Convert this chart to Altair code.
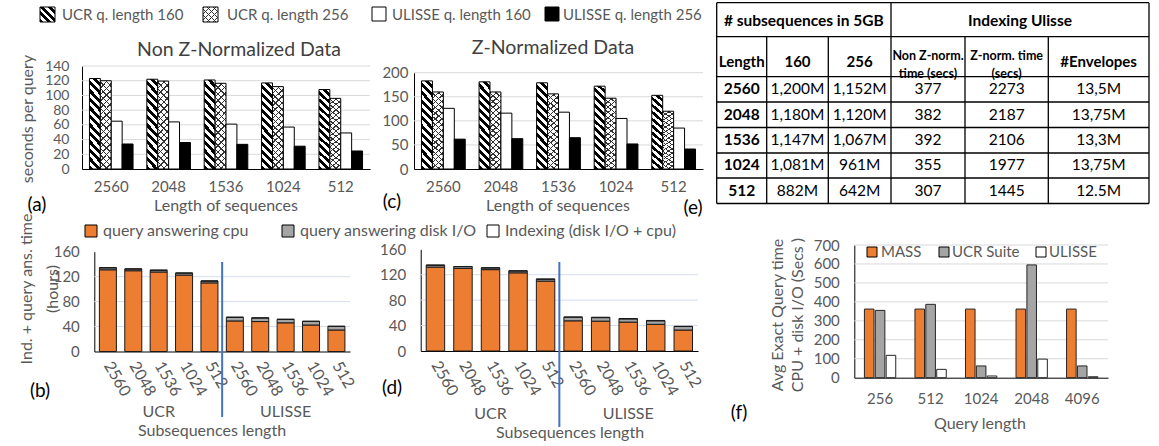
import altair as alt
import pandas as pd

W, H = 1159, 446
FONT = "Lato"
TXT = "#595959"
DARK = "#404040"
ORANGE = "#ED7D31"
GREY = "#A5A5A5"
BLUE = "#4472C4"

# ---------------- (a) / (c): seconds per query ----------------
lengths = ["2560", "2048", "1536", "1024", "512"]
series_q = ["UCR q. length 160", "UCR q. length 256",
            "ULISSE q. length 160", "ULISSE q. length 256"]
nonz_ucr160 = [123, 122, 121, 117, 108]
nonz_ucr256 = [120, 119.5, 116.5, 112, 96]
nonz_ulisse160 = [65, 64, 61, 57, 49]
nonz_ulisse256 = [34, 36, 33.5, 31, 24.5]
z_ucr160 = [183, 181, 179, 172, 153]
z_ucr256 = [160, 160, 156, 147, 120]
z_ulisse160 = [126, 116, 118, 105, 85]
z_ulisse256 = [62, 63, 65, 52, 41.5]
nonz_ticks = [0, 20, 40, 60, 80, 100, 120, 140]
z_ticks = [0, 50, 100, 150, 200]

# ---------------- (b) / (d): hours ----------------
methods = ["UCR", "ULISSE"]
components = ["query answering cpu", "query answering disk I/O", "Indexing (disk I/O + cpu)"]
b_ucr_cpu = [131, 129.5, 127.5, 122.5, 110]
b_ucr_io = [3.2, 2.8, 2.8, 3.2, 3.0]
b_ucr_idx = [0, 0, 0, 0, 0]
b_ulisse_cpu = [49, 48, 46, 42.5, 34.5]
b_ulisse_io = [5.8, 5.8, 5.5, 5.8, 5.8]
b_ulisse_idx = [0.10, 0.11, 0.11, 0.10, 0.09]
d_ucr_cpu = [132, 130, 128, 123, 110]
d_ucr_io = [3.0, 2.8, 2.8, 3.0, 3.0]
d_ucr_idx = [0, 0, 0, 0, 0]
d_ulisse_cpu = [47.5, 47, 45.5, 42, 33]
d_ulisse_io = [5.5, 5.5, 5.0, 5.5, 5.5]
d_ulisse_idx = [0.63, 0.61, 0.58, 0.55, 0.40]
hours_ticks = [0, 40, 80, 120, 160]

# ---------------- (f): exact query time ----------------
query_lengths = ["256", "512", "1024", "2048", "4096"]
f_methods = ["MASS", "UCR Suite", "ULISSE"]
f_mass = [362, 362, 362, 362, 362]
f_ucr = [355, 387, 62, 595, 62]
f_ulisse = [118, 44, 9, 98, 5]
f_ticks = [0, 100, 200, 300, 400, 500, 600, 700]

# ---------------- (e): table ----------------
tab_length = ["2560", "2048", "1536", "1024", "512"]
tab_160 = ["1,200M", "1,180M", "1,147M", "1,081M", "882M"]
tab_256 = ["1,152M", "1,120M", "1,067M", "961M", "642M"]
tab_nonz = ["377", "382", "392", "355", "307"]
tab_z = ["2273", "2187", "2106", "1977", "1445"]
tab_env = ["13,5M", "13,75M", "13,3M", "13,75M", "12.5M"]

# ---------------- layout (pixels) ----------------
PA = {"x": (82, 370), "y": (169, 66)}
PC = {"x": (414, 703), "y": (169, 72.7)}
PB = {"x": (94.3, 350), "y": (351.5, 251.7)}
PD = {"x": (420.7, 698), "y": (351, 249.3)}
PF = {"x": (854.3, 1108), "y": (377.7, 245)}
TAB_X = [716.7, 766.7, 828.3, 891, 965, 1048.3, 1149]
TAB_Y = [2.7, 36.7, 76.7, 102, 127.5, 153, 178, 203.5]


def one():
    return pd.DataFrame({"k": [0]})


def texts(items, size, color=TXT, weight="normal", align="center", angle=0, lh=None):
    df = pd.DataFrame({"t": [i[0] for i in items], "px": [i[1] for i in items],
                       "py": [i[2] for i in items]})
    kw = dict(font=FONT, fontSize=size, color=color, fontWeight=weight, align=align,
              baseline="middle", angle=angle, lineBreak="|")
    if lh:
        kw["lineHeight"] = lh
    return alt.Chart(df).mark_text(**kw).encode(
        x=alt.X("px:Q", scale=None, axis=None), y=alt.Y("py:Q", scale=None, axis=None), text="t:N")


def swatch(x0, x1, y0, y1, fill, stroke="black", sw=1):
    kw = dict(fill=fill)
    if stroke:
        kw.update(stroke=stroke, strokeWidth=sw)
    return alt.Chart(one()).mark_rect(**kw).encode(
        x=alt.value(x0), x2=alt.value(x1), y=alt.value(y0), y2=alt.value(y1))


def stripes(w, h, period, frac, on, off, direction):
    n = max(1, round((w + h) / period))
    t = (w + h) / (w * w + h * h)
    stops = []
    for i in range(n):
        a, b, e = i / n, (i + frac) / n, (i + 1) / n
        stops += [alt.GradientStop(color=on, offset=round(a, 5)),
                  alt.GradientStop(color=on, offset=round(b, 5)),
                  alt.GradientStop(color=off, offset=round(b, 5)),
                  alt.GradientStop(color=off, offset=round(e, 5))]
    if direction == "back":
        return alt.LinearGradient(gradient="linear", stops=stops, x1=0, y1=1, x2=t * w, y2=1 - t * h)
    return alt.LinearGradient(gradient="linear", stops=stops, x1=0, y1=0, x2=t * w, y2=t * h)


def y_axis(px, ticks, pad, size=15):
    return alt.Axis(orient="left", offset=-px, values=ticks, title=None, grid=False, ticks=False,
                    domainColor="black", domainWidth=1, labelFont=FONT, labelFontSize=size,
                    labelColor=TXT, labelPadding=pad, labelOverlap=False, labelFlush=False)


def x_axis(py, pad, size=15, angle=0, **kw):
    return alt.Axis(orient="bottom", offset=py - H, title=None, grid=False, ticks=False,
                    domainColor="black", domainWidth=1, labelFont=FONT, labelFontSize=size,
                    labelColor=TXT, labelPadding=pad, labelOverlap=False, labelAngle=angle, **kw)


HATCH_LINE = "#333333"
CLEAR = "rgba(0,0,0,0)"


def grouped_panel(vals, P, ticks, ypad, ysize):
    df = pd.DataFrame([{"len": l, "series": s, "value": v}
                       for s, vs in zip(series_q, vals) for l, v in zip(lengths, vs)])
    pi, po = 0.24, 0.13
    xs = alt.Scale(domain=lengths, range=list(P["x"]), paddingInner=pi, paddingOuter=po)
    ys = alt.Scale(domain=[ticks[0], ticks[-1]], range=list(P["y"]), nice=False, zero=False)
    xo = alt.Scale(domain=series_q, paddingInner=0, paddingOuter=0)
    xa = x_axis(P["y"][0], 10)
    ya = y_axis(P["x"][0], ticks, ypad, size=ysize)
    step = (P["x"][1] - P["x"][0]) / (len(lengths) - pi + 2 * po)
    bw = step * (1 - pi) / 4
    bh = 85
    grid = alt.Chart(pd.DataFrame({"v": ticks[1:]})).mark_rule(color="#D9D9D9", strokeWidth=1).encode(
        y=alt.Y("v:Q", scale=ys, axis=ya),
        x=alt.value(P["x"][0]), x2=alt.value(P["x"][1]))

    def bars(s, **mk):
        return alt.Chart(df).transform_filter(alt.datum.series == s).mark_bar(**mk).encode(
            x=alt.X("len:N", scale=xs, axis=xa),
            xOffset=alt.XOffset("series:N", scale=xo),
            y=alt.Y("value:Q", scale=ys, axis=ya, stack=None))

    return alt.layer(
        grid,
        bars(series_q[0], fill=stripes(bw, bh, 8, 0.5, "black", "white", "back"),
             stroke="black", strokeWidth=1),
        bars(series_q[1], fill="white"),
        bars(series_q[1], fill=stripes(bw, bh, 6.5, 0.22, HATCH_LINE, CLEAR, "back")),
        bars(series_q[1], fill=stripes(bw, bh, 6.5, 0.22, HATCH_LINE, CLEAR, "fwd"),
             stroke="black", strokeWidth=1),
        bars(series_q[2], fill="white", stroke="black", strokeWidth=1),
        bars(series_q[3], fill="black", stroke="black", strokeWidth=1),
    )


def stacked_panel(ucr, ulisse, P, ypad, div_y, group_y):
    cats = [f"{m}-{l}" for m in methods for l in lengths]
    rows = []
    for m, comps in zip(methods, [ucr, ulisse]):
        for ci, (cname, arr) in enumerate(zip(components, comps)):
            for l, v in zip(lengths, arr):
                rows.append({"cat": f"{m}-{l}", "comp": cname, "ord": ci, "value": v})
    df = pd.DataFrame(rows)
    pi, po = 0.33, 0.2
    xs = alt.Scale(domain=cats, range=list(P["x"]), paddingInner=pi, paddingOuter=po)
    ys = alt.Scale(domain=[hours_ticks[0], hours_ticks[-1]], range=list(P["y"]), nice=False, zero=False)
    xa = x_axis(P["y"][0], 11, size=16, angle=60, labelAlign="left", labelBaseline="middle",
                labelExpr="split(datum.label, '-')[1]")
    ya = y_axis(P["x"][0], hours_ticks, ypad)
    step = (P["x"][1] - P["x"][0]) / (len(cats) - pi + 2 * po)
    grid = alt.Chart(pd.DataFrame({"v": hours_ticks[1:-1]})).mark_rule(color="#D6DEEF", strokeWidth=1).encode(
        y=alt.Y("v:Q", scale=ys, axis=ya),
        x=alt.value(P["x"][0]), x2=alt.value(P["x"][1]))
    bars = alt.Chart(df).mark_bar(stroke="#1a1a1a", strokeWidth=1).encode(
        x=alt.X("cat:N", scale=xs, axis=xa),
        y=alt.Y("value:Q", scale=ys, axis=ya, stack="zero"),
        color=alt.Color("comp:N", scale=alt.Scale(domain=components, range=[ORANGE, GREY, "white"]),
                        legend=None),
        order=alt.Order("ord:Q", sort="ascending"))
    divider = alt.Chart(pd.DataFrame({"c": [f"{methods[1]}-{lengths[0]}"]})).mark_rule(
        color=BLUE, strokeWidth=2, xOffset=-step * pi / 2).encode(
        x=alt.X("c:N", scale=xs, axis=xa, bandPosition=0),
        y=alt.value(div_y[0]), y2=alt.value(div_y[1]))
    groups = alt.Chart(pd.DataFrame({"c": [f"{m}-{lengths[2]}" for m in methods], "g": methods})).mark_text(
        font=FONT, fontSize=16, color=TXT, baseline="middle").encode(
        x=alt.X("c:N", scale=xs, axis=xa), y=alt.value(group_y), text="g:N")
    return alt.layer(grid, bars, divider, groups)


def f_panel(P):
    df = pd.DataFrame([{"q": q, "method": m, "value": v}
                       for m, vs in zip(f_methods, [f_mass, f_ucr, f_ulisse])
                       for q, v in zip(query_lengths, vs)])
    xs = alt.Scale(domain=query_lengths, range=list(P["x"]), paddingInner=0.38, paddingOuter=0.2)
    ys = alt.Scale(domain=[f_ticks[0], f_ticks[-1]], range=list(P["y"]), nice=False, zero=False)
    ya = y_axis(P["x"][0], f_ticks, 15)
    grid = alt.Chart(pd.DataFrame({"v": f_ticks[1:]})).mark_rule(color="#D9D9D9", strokeWidth=1).encode(
        y=alt.Y("v:Q", scale=ys, axis=ya),
        x=alt.value(P["x"][0]), x2=alt.value(P["x"][1]))
    bars = alt.Chart(df).mark_bar(stroke="#262626", strokeWidth=1).encode(
        x=alt.X("q:N", scale=xs, axis=x_axis(P["y"][0], 14)),
        xOffset=alt.XOffset("method:N", scale=alt.Scale(domain=f_methods, paddingInner=0.12)),
        y=alt.Y("value:Q", scale=ys, axis=ya, stack=None),
        color=alt.Color("method:N", scale=alt.Scale(domain=f_methods, range=[ORANGE, GREY, "white"]),
                        legend=None))
    return alt.layer(grid, bars)


def table_panel():
    segs = []
    for y in TAB_Y:
        segs.append((TAB_X[0], TAB_X[-1], y, y))
    for x in [TAB_X[0], TAB_X[3], TAB_X[-1]]:
        segs.append((x, x, TAB_Y[0], TAB_Y[-1]))
    for x in [TAB_X[1], TAB_X[2], TAB_X[4], TAB_X[5]]:
        segs.append((x, x, TAB_Y[1], TAB_Y[-1]))
    sdf = pd.DataFrame(segs, columns=["x0", "x1", "y0", "y1"])
    lines = alt.Chart(sdf).mark_rule(color="black", strokeWidth=1.3).encode(
        x=alt.X("x0:Q", scale=None, axis=None), x2="x1:Q",
        y=alt.Y("y0:Q", scale=None, axis=None), y2="y1:Q")
    cx = [(TAB_X[i] + TAB_X[i + 1]) / 2 for i in range(6)]
    tdf = pd.DataFrame({"len": tab_length, "c160": tab_160, "c256": tab_256,
                        "nonz": tab_nonz, "z": tab_z, "env": tab_env})
    ysc = alt.Scale(domain=tab_length, range=[TAB_Y[2], TAB_Y[-1]], paddingInner=0, paddingOuter=0)
    cols = []
    for i, f in enumerate(["len", "c160", "c256", "nonz", "z", "env"]):
        cols.append(alt.Chart(tdf).mark_text(
            font=FONT, fontSize=15.5, color="black", fontWeight="bold" if i == 0 else "normal",
            baseline="middle").encode(
            x=alt.value(cx[i]), y=alt.Y("len:N", scale=ysc, axis=None), text=f"{f}:N"))
    head1 = texts([("# subsequences in 5GB", (TAB_X[0] + TAB_X[3]) / 2, 21),
                   ("Indexing Ulisse", (TAB_X[3] + TAB_X[-1]) / 2, 21)], 15.5, "black", "bold")
    head2 = texts([("Length", cx[0], 62), ("160", cx[1], 62), ("256", cx[2], 62),
                   ("#Envelopes", cx[5], 62)], 15, "black", "bold")
    head3 = texts([("Non Z-norm.|time (secs)", cx[3], 56), ("Z-norm. time|(secs)", cx[4], 56)],
                  12.5, "black", "bold", lh=18)
    return alt.layer(lines, *cols, head1, head2, head3)


layers = []
layers.append(grouped_panel([nonz_ucr160, nonz_ucr256, nonz_ulisse160, nonz_ulisse256], PA, nonz_ticks, 13, 14))
layers.append(grouped_panel([z_ucr160, z_ucr256, z_ulisse160, z_ulisse256], PC, z_ticks, 6, 15))
layers.append(stacked_panel((b_ucr_cpu, b_ucr_io, b_ucr_idx), (b_ulisse_cpu, b_ulisse_io, b_ulisse_idx),
                            PB, 15, (262, 417), 412))
layers.append(stacked_panel((d_ucr_cpu, d_ucr_io, d_ucr_idx), (d_ulisse_cpu, d_ulisse_io, d_ulisse_idx),
                            PD, 15, (262, 427), 414))
layers.append(f_panel(PF))
layers.append(table_panel())

# legends
sw = 15
layers += [
    swatch(40, 40 + sw, 7, 7 + sw, stripes(sw, sw, 7.5, 0.5, "black", "white", "back")),
    swatch(203, 203 + sw, 7, 7 + sw, "white", None),
    swatch(203, 203 + sw, 7, 7 + sw, stripes(sw, sw, 6, 0.25, HATCH_LINE, CLEAR, "back"), None),
    swatch(203, 203 + sw, 7, 7 + sw, stripes(sw, sw, 6, 0.25, HATCH_LINE, CLEAR, "fwd")),
    swatch(372, 372 + 14, 7, 21, "white"),
    swatch(545, 545 + 14, 7, 21, "black"),
    texts([(series_q[0], 62, 15), (series_q[1], 227, 15), (series_q[2], 392, 15),
           (series_q[3], 563, 15)], 15, TXT, align="left"),
    swatch(85, 97, 225, 237, ORANGE),
    swatch(282, 294, 225, 237, GREY),
    swatch(487, 499, 225, 237, "white"),
    texts([(components[0], 103, 231), (components[1], 300, 231), (components[2], 505, 231)],
          16, TXT, align="left"),
    swatch(867, 877, 247, 257, ORANGE),
    swatch(939, 949, 247, 257, GREY),
    swatch(1036, 1046, 247, 257, "white"),
    texts([(f_methods[0], 881, 252), (f_methods[1], 952, 252), (f_methods[2], 1049, 252)],
          15, TXT, align="left"),
]

# titles and labels
layers += [
    texts([("Non Z-Normalized Data", 239, 50), ("Z-Normalized Data", 553, 48)], 19.5, DARK),
    texts([("Length of sequences", 226, 206), ("Length of sequences", 558, 206),
           ("Subsequences length", 212, 431), ("Subsequences length", 570, 433),
           ("Query length", 980, 424)], 16, TXT),
    texts([("seconds per query", 27.5, 119)], 16, TXT, angle=270),
    texts([("Ind. + query ans. time|(hours)", 27, 289)], 16, TXT, angle=270, lh=26),
    texts([("Avg Exact Query time|CPU + disk I/O (Secs )", 778, 315)], 16, TXT, angle=270, lh=20),
    texts([("(a)", 37, 205), ("(c)", 392, 202), ("(e)", 693, 208), ("(b)", 40, 391),
           ("(d)", 392, 388), ("(f)", 739, 413)], 19, "black"),
]

chart = alt.layer(*layers).properties(
    width=W, height=H, padding=0, background="white",
    autosize=alt.AutoSizeParams(type="none"),
).resolve_scale(
    x="independent", y="independent", xOffset="independent", color="independent"
).configure_view(stroke=None)

chart.save("out.html", embed_options={"renderer": "svg", "actions": False})
